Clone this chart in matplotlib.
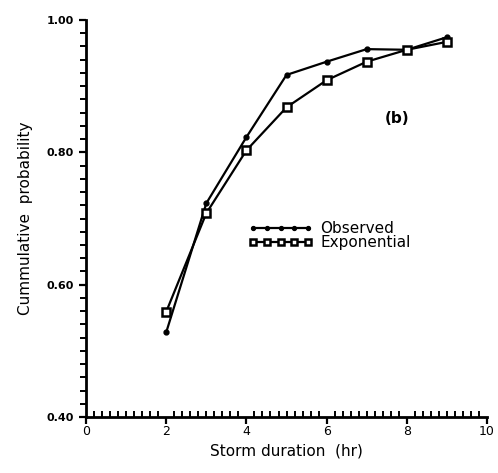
import numpy as np
import matplotlib
matplotlib.use("Agg")
import matplotlib.pyplot as plt
from matplotlib.ticker import MultipleLocator

# ---------------------------------------------------------------------------
# Data
# ---------------------------------------------------------------------------
duration = [2, 3, 4, 5, 6, 7, 8, 9]
observed = [0.528, 0.723, 0.823, 0.917, 0.937, 0.956, 0.955, 0.974]
exponential = [0.559, 0.708, 0.803, 0.868, 0.909, 0.937, 0.955, 0.967]

y_ticks = [0.40, 0.60, 0.80, 1.00]
y_labels = ["0.40", "0.60", "0.80", "1.00"]
x_ticks = [0, 2, 4, 6, 8, 10]

plt.rcParams["font.family"] = ["DejaVu Sans"]

fig = plt.figure(figsize=(4.98, 4.73), dpi=100)
ax = fig.add_axes([0.1727, 0.1184, 0.8053, 0.8393])

ax.plot(duration, observed, color="black", lw=1.6, marker="o", ms=3.5,
        mfc="black", mec="black", label="Observed")
ax.plot(duration, exponential, color="black", lw=1.6, marker="s", ms=5.5,
        mfc="white", mec="black", mew=1.8, label="Exponential")

ax.set_xlim(0, 10)
ax.set_ylim(0.40, 1.00)

for side in ("top", "right"):
    ax.spines[side].set_visible(False)
for side in ("left", "bottom"):
    ax.spines[side].set_linewidth(2)

ax.set_yticks(y_ticks)
ax.set_yticklabels(y_labels, fontsize=8, fontweight="bold")
ax.yaxis.set_minor_locator(MultipleLocator(0.02))
ax.tick_params(axis="y", which="major", direction="out", length=5, width=1.6)
ax.tick_params(axis="y", which="minor", direction="out", length=4, width=1.4)

ax.set_xticks(x_ticks)
ax.set_xticklabels([str(t) for t in x_ticks], fontsize=9)
ax.xaxis.set_minor_locator(MultipleLocator(0.2))
ax.tick_params(axis="x", which="major", direction="out", length=5, width=1.6, pad=1)
ax.tick_params(axis="x", which="minor", direction="in", length=4, width=1.4)

ax.set_xlabel("Storm duration  (hr)", fontsize=11, labelpad=4)
ax.set_ylabel("Cummulative  probability", fontsize=11, labelpad=10)

ax.text(7.45, 0.845, "(b)", fontsize=11, fontweight="bold")

ax.legend(loc="upper left", bbox_to_anchor=(0.39, 0.508), frameon=False,
          numpoints=5, handlelength=4.2, handletextpad=0.5, labelspacing=-0.1,
          markerscale=0.8, fontsize=11, borderaxespad=0)

fig.savefig("out.png", dpi=100)
